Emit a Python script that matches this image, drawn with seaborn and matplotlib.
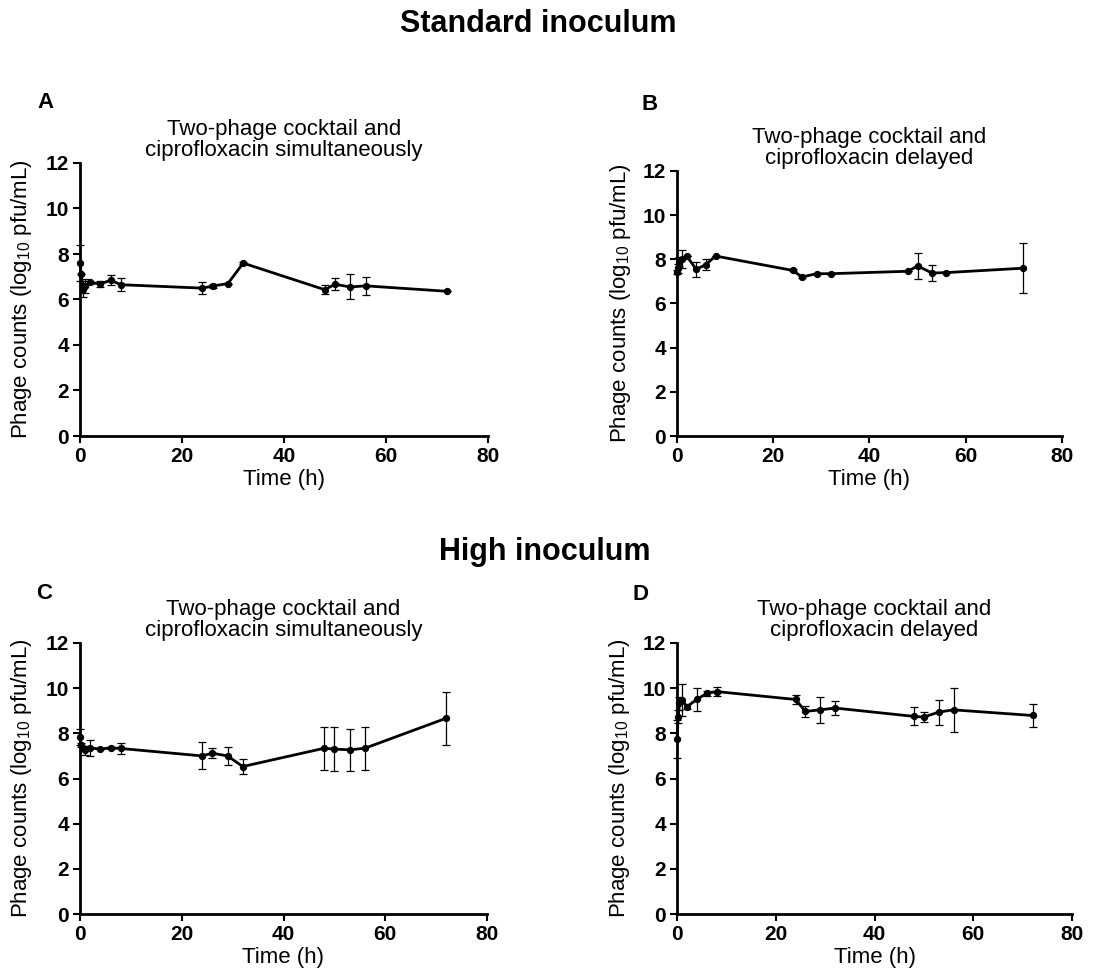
import numpy as np
import pandas as pd
import matplotlib
matplotlib.use('Agg')
import matplotlib.pyplot as plt
import seaborn as sns

# sampling times (h)
time_h = [0, 0.25, 0.5, 1, 2, 4, 6, 8, 24, 26, 29, 32, 48, 50, 53, 56, 72]

# A: standard inoculum, simultaneous
a_mean = [7.6, 7.1, 6.45, 6.6, 6.75, 6.68, 6.85, 6.65, 6.5, 6.59, 6.7, 7.6, 6.43, 6.67, 6.55, 6.6, 6.36]
a_sd = [0.8, 0.0, 0.35, 0.3, 0.08, 0.13, 0.22, 0.28, 0.27, 0.08, 0.0, 0.05, 0.2, 0.27, 0.55, 0.4, 0.0]
# B: standard inoculum, delayed
b_mean = [7.43, 7.6, 7.9, 8.0, 8.15, 7.55, 7.76, 8.15, 7.5, 7.2, 7.35, 7.35, 7.46, 7.7, 7.38, 7.4, 7.6]
b_sd = [0.1, 0.2, 0.2, 0.4, 0.0, 0.35, 0.25, 0.0, 0.05, 0.05, 0.0, 0.0, 0.0, 0.57, 0.38, 0.0, 1.13]
# C: high inoculum, simultaneous
c_mean = [7.85, 7.48, 7.35, 7.26, 7.36, 7.3, 7.36, 7.33, 7.0, 7.12, 7.0, 6.53, 7.34, 7.3, 7.27, 7.34, 8.67]
c_sd = [0.35, 0.1, 0.1, 0.2, 0.35, 0.0, 0.05, 0.25, 0.6, 0.22, 0.39, 0.34, 0.96, 0.96, 0.93, 0.96, 1.18]
# D: high inoculum, delayed
d_mean = [7.74, 8.74, 9.33, 9.48, 9.18, 9.5, 9.77, 9.85, 9.5, 8.97, 9.04, 9.12, 8.75, 8.72, 8.94, 9.04, 8.79]
d_sd = [0.83, 0.3, 0.3, 0.7, 0.1, 0.5, 0.1, 0.2, 0.2, 0.25, 0.57, 0.3, 0.4, 0.22, 0.55, 0.98, 0.5]

panel_letters = ['A', 'B', 'C', 'D']
panel_titles = ['Two-phage cocktail and\nciprofloxacin simultaneously',
                'Two-phage cocktail and\nciprofloxacin delayed',
                'Two-phage cocktail and\nciprofloxacin simultaneously',
                'Two-phage cocktail and\nciprofloxacin delayed']
row_titles = ['Standard inoculum', 'High inoculum']
x_ticks = [0, 20, 40, 60, 80]
y_ticks = [0, 2, 4, 6, 8, 10, 12]

sns.set_style('ticks')
plt.rcParams['font.family'] = ['Liberation Sans', 'DejaVu Sans']
plt.rcParams['mathtext.default'] = 'regular'
for key in ['text.color', 'axes.labelcolor', 'xtick.color', 'ytick.color']:
    plt.rcParams[key] = 'black'

W, H = 1099, 980
fig = plt.figure(figsize=(W / 100, H / 100), dpi=100)

# axes boxes in pixels: left, top, right, bottom
boxes = [(80, 163, 488, 436), (677, 171, 1062, 436),
         (80, 643, 487, 914), (677, 643, 1072, 914)]
letter_pos = [(46, 103), (650, 104), (44, 593), (641, 595)]
ylabel_x = [34, 633, 34, 632]

series = [(a_mean, a_sd), (b_mean, b_sd), (c_mean, c_sd), (d_mean, d_sd)]

for i, (mean, sd) in enumerate(series):
    l, t, r, b = boxes[i]
    ax = fig.add_axes([l / W, 1 - b / H, (r - l) / W, (b - t) / H])
    df = pd.DataFrame({'time': time_h, 'count': mean, 'sd': sd})
    ax.errorbar(df['time'], df['count'], yerr=df['sd'], fmt='none',
                ecolor='black', elinewidth=0.9, capsize=3, capthick=0.9,
                clip_on=False, zorder=2)
    sns.lineplot(data=df, x='time', y='count', ax=ax, color='black',
                 linewidth=2, marker='o', markersize=4.5,
                 markeredgecolor='black', clip_on=False, zorder=3)
    ax.set_xlim(0, 80)
    ax.set_ylim(0, 12)
    ax.set_xticks(x_ticks)
    ax.set_yticks(y_ticks)
    for lab in ax.get_xticklabels() + ax.get_yticklabels():
        lab.set_fontweight('bold')
    ax.tick_params(axis='both', labelsize=15, width=1.5, length=5,
                   color='black', pad=3)
    for side in ['left', 'bottom']:
        ax.spines[side].set_linewidth(2)
        ax.spines[side].set_color('black')
    sns.despine(ax=ax)
    ax.set_xlabel('Time (h)', fontsize=16, labelpad=2)
    ax.set_ylabel(r'Phage counts (log$_{10}$ pfu/mL)', fontsize=16)
    ax.yaxis.set_label_coords(ylabel_x[i] / W, 1 - (t + b) / 2 / H,
                              transform=fig.transFigure)
    ax.set_title(panel_titles[i], fontsize=16, pad=5, linespacing=1.0)
    lx, ly = letter_pos[i]
    fig.text(lx / W, 1 - ly / H, panel_letters[i], fontsize=16,
             fontweight='bold', ha='center', va='center')

fig.text(538 / W, 1 - 24 / H, row_titles[0], fontsize=22,
         fontweight='bold', ha='center', va='center')
fig.text(545 / W, 1 - 552 / H, row_titles[1], fontsize=22,
         fontweight='bold', ha='center', va='center')

fig.savefig('out.png', dpi=100)
